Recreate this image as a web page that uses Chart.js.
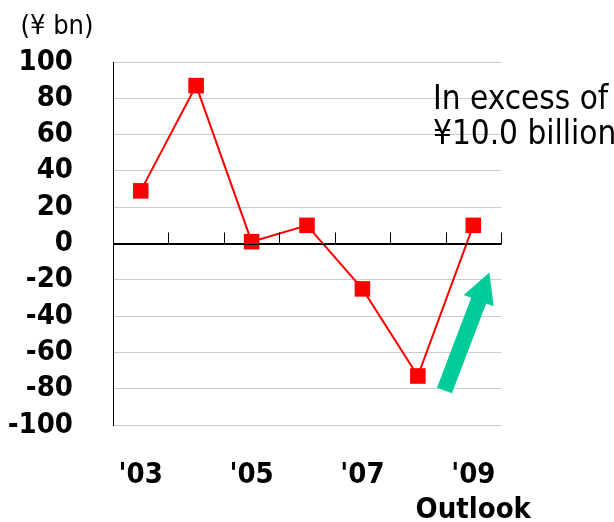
<!DOCTYPE html>
<html>
<head>
<meta charset="utf-8">
<script src="https://cdn.jsdelivr.net/npm/chart.js@4"></script>
<style>
  body { margin: 0; background: #fff; }
  canvas { display: block; }
</style>
</head>
<body>
<canvas id="incomeChart" width="614" height="522"></canvas>
<script>
// values
var years = ["'03", "'04", "'05", "'06", "'07", "'08", "'09"];
var income = [29, 87, 1, 10, -25, -73, 10];
var outlookNote = 'Outlook';
var unitLabel = '(\u00a5 bn)';
var noteLines = ['In excess of', '\u00a510.0 billion'];

var fontFamily = '"DejaVu Sans Condensed", "Liberation Sans", sans-serif';

var incomeCanvas = document.getElementById('incomeChart');

// zero line tick marks, unit label, note text and the green arrow
var extras = {
  id: 'extras',
  afterDraw: function(chart) {
    var ctx = chart.ctx;
    var x = chart.scales.x;
    var y = chart.scales.y;
    var zeroY = Math.round(y.getPixelForValue(0)) + 0.5;

    ctx.save();
    ctx.strokeStyle = '#000';
    ctx.lineWidth = 1;
    ctx.beginPath();
    ctx.moveTo(x.left, zeroY);
    ctx.lineTo(x.right, zeroY);
    ctx.stroke();
    for (var i = 0; i < years.length; i++) {
      var bx = Math.round(x.getPixelForValue(i + 0.5)) + 0.5;
      ctx.beginPath();
      ctx.moveTo(bx, zeroY);
      ctx.lineTo(bx, zeroY - 12);
      ctx.stroke();
    }

    ctx.fillStyle = '#000';
    ctx.textBaseline = 'middle';
    ctx.textAlign = 'center';
    ctx.font = '27px ' + fontFamily;
    ctx.fillText(unitLabel, 57, 27);

    ctx.textAlign = 'left';
    ctx.font = '33px ' + fontFamily;
    ctx.fillText(noteLines[0], 433, 100);
    ctx.fillText(noteLines[1], 433, 135);

    // arrow from near the '08 low up towards the '09 outlook
    var tx = x.getPixelForValue(5.48), ty = y.getPixelForValue(-81);
    var hx = x.getPixelForValue(6.29), hy = y.getPixelForValue(-16);
    var ang = Math.atan2(hy - ty, hx - tx);
    var len = Math.hypot(hx - tx, hy - ty);
    ctx.translate(tx, ty);
    ctx.rotate(ang);
    ctx.fillStyle = '#00cc99';
    ctx.beginPath();
    ctx.moveTo(0, -8);
    ctx.lineTo(len - 30, -8);
    ctx.lineTo(len - 30, -16);
    ctx.lineTo(len, 0);
    ctx.lineTo(len - 30, 16);
    ctx.lineTo(len - 30, 8);
    ctx.lineTo(0, 8);
    ctx.closePath();
    ctx.fill();
    ctx.restore();
  }
};

var incomeChart = new Chart(incomeCanvas, {
  type: 'line',
  data: {
    labels: years,
    datasets: [{
      data: income,
      borderColor: '#ff0000',
      backgroundColor: '#ff0000',
      borderWidth: 2,
      pointStyle: 'rect',
      pointRadius: 11,
      pointBorderWidth: 0,
      pointBackgroundColor: '#ff0000',
      tension: 0
    }]
  },
  options: {
    responsive: false,
    animation: false,
    layout: { padding: { top: 62, right: 113, left: 0, bottom: 0 } },
    plugins: {
      legend: { display: false },
      tooltip: { enabled: false }
    },
    scales: {
      x: {
        offset: true,
        grid: { display: false },
        border: { display: false },
        afterFit: function(scale) { scale.height = 97; },
        ticks: {
          autoSkip: false,
          maxRotation: 0,
          padding: 25,
          color: '#000',
          font: { family: fontFamily, size: 29, weight: 'bold', lineHeight: 1.2 },
          callback: function(val, idx) {
            if (idx % 2 !== 0) return '';
            if (idx === years.length - 1) return [years[idx], outlookNote];
            return years[idx];
          }
        }
      },
      y: {
        min: -100,
        max: 100,
        afterFit: function(scale) { scale.width = 113; },
        grid: {
          drawTicks: false,
          color: function(c) { return c.tick && c.tick.value === 0 ? '#000' : '#cccccc'; },
          lineWidth: 1
        },
        border: { display: true, color: '#000', width: 1 },
        ticks: {
          stepSize: 20,
          autoSkip: false,
          padding: 40,
          color: '#000',
          font: { family: fontFamily, size: 29, weight: 'bold' }
        }
      }
    }
  },
  plugins: [extras]
});
</script>
</body>
</html>
